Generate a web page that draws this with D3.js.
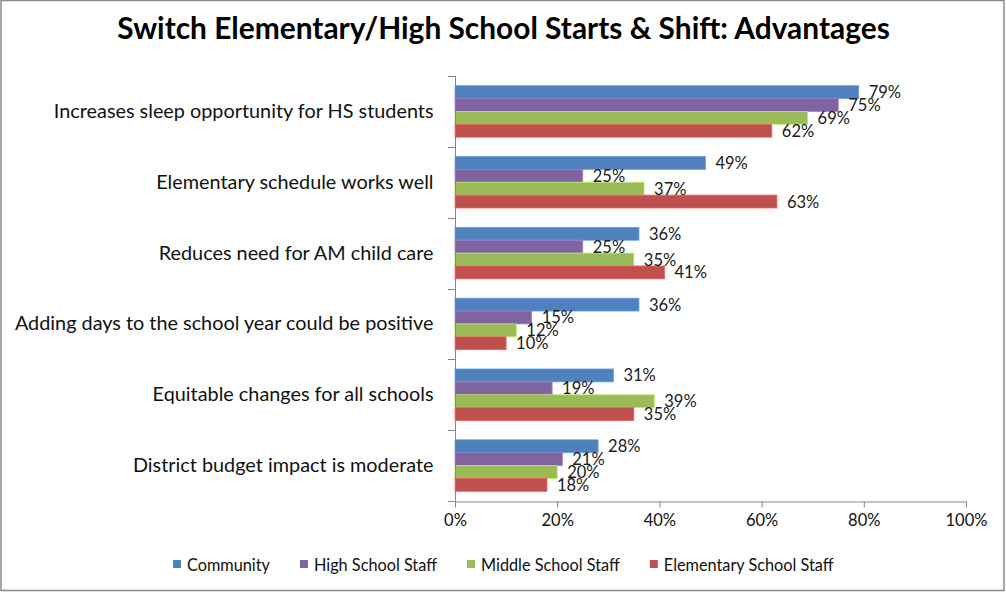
<!DOCTYPE html>
<html>
<head>
<meta charset="utf-8">
<script src="https://cdn.jsdelivr.net/npm/d3@7"></script>
<style>
  html, body { margin: 0; padding: 0; background: #fff; }
  svg { display: block; font-family: Lato, "Open Sans", sans-serif; }
</style>
</head>
<body>
<svg id="chart" width="1006" height="593"></svg>
<script>
// Survey answers: share of each group naming the option an advantage (%)
const categories = [
  "Increases sleep opportunity for HS students",
  "Elementary schedule works well",
  "Reduces need for AM child care",
  "Adding days to the school year could be positive",
  "Equitable changes for all schools",
  "District budget impact is moderate"
];
const seriesNames = ["Community", "High School Staff", "Middle School Staff", "Elementary School Staff"];
const community   = [79, 49, 36, 36, 31, 28];
const highSchool  = [75, 25, 25, 15, 19, 21];
const middle      = [69, 37, 35, 12, 39, 20];
const elementary  = [62, 63, 41, 10, 35, 18];
const xTicks = [0, 20, 40, 60, 80, 100];
const titleText = "Switch Elementary/High School Starts & Shift: Advantages";

const seriesValues = [community, highSchool, middle, elementary];
const colors = ["#4F81BD", "#8064A2", "#9BBB59", "#C0504D"];

const svg = d3.select("#chart");

// outer frame
svg.append("rect")
  .attr("x", 1).attr("y", 0.5).attr("width", 1003).attr("height", 590)
  .attr("fill", "#fff").attr("stroke", "#8a8a8a").attr("stroke-width", 1.5);

// scale a text's font size so it spans the given width
function fitWidth(sel, target) {
  const node = sel.node();
  const base = parseFloat(sel.attr("font-size"));
  const w = node.getComputedTextLength();
  const size = base * target / w;
  sel.attr("font-size", size);
  return size;
}

// title
const title = svg.append("text")
  .attr("x", 503.5).attr("y", 39)
  .attr("text-anchor", "middle")
  .attr("font-weight", "bold")
  .attr("font-size", 26)
  .attr("fill", "#000")
  .text(titleText);
fitWidth(title, 773);

const x = d3.scaleLinear().domain([0, 100]).range([455, 966]);
const y0 = d3.scaleBand().domain(categories).range([76, 501]).padding(0);
const y1 = d3.scaleBand().domain(seriesNames).range([0, y0.bandwidth()])
  .paddingInner(0).paddingOuter(0.75);

// bars
const groups = svg.append("g").selectAll("g")
  .data(categories)
  .join("g")
  .attr("transform", d => `translate(0,${y0(d)})`);

groups.selectAll("rect")
  .data((c, i) => seriesNames.map((s, k) => ({ s, k, v: seriesValues[k][i] })))
  .join("rect")
  .attr("x", x(0))
  .attr("y", d => y1(d.s))
  .attr("width", d => x(d.v) - x(0))
  .attr("height", y1.bandwidth())
  .attr("fill", d => colors[d.k])
  .attr("stroke", d => d3.color(colors[d.k]).brighter(0.6))
  .attr("stroke-width", 0.8);

// value labels
groups.selectAll("text")
  .data((c, i) => seriesNames.map((s, k) => ({ s, k, v: seriesValues[k][i] })))
  .join("text")
  .attr("x", d => x(d.v) + 10)
  .attr("y", d => y1(d.s) + y1.bandwidth() / 2 + 6)
  .attr("font-size", 16.5)
  .attr("fill", "#1a1a1a")
  .text(d => d.v + "%");

// category axis (left)
const yAxis = svg.append("g").attr("transform", `translate(${x(0)},0)`);
yAxis.append("line")
  .attr("x1", 0.5).attr("x2", 0.5).attr("y1", 76).attr("y2", 501.5)
  .attr("stroke", "#868686");
const boundaries = categories.map(c => y0(c)).concat([y0.range()[1]]);
yAxis.selectAll("line.tick")
  .data(boundaries)
  .join("line")
  .attr("class", "tick")
  .attr("x1", -7).attr("x2", 0.5)
  .attr("y1", d => Math.round(d) + 0.5).attr("y2", d => Math.round(d) + 0.5)
  .attr("stroke", "#868686");

const catLabels = svg.append("g").selectAll("text")
  .data(categories)
  .join("text")
  .attr("x", 433.5)
  .attr("y", d => y0(d) + y0.bandwidth() / 2 + 6.5)
  .attr("text-anchor", "end")
  .attr("font-size", 18)
  .attr("fill", "#111")
  .text(d => d);
const catSize = fitWidth(catLabels.filter((d, i) => i === 0), 380);
catLabels.attr("font-size", catSize);

// value axis (bottom)
const xAxis = svg.append("g")
  .attr("transform", "translate(0,501.5)")
  .call(d3.axisBottom(x).tickValues(xTicks).tickFormat(d => d + "%").tickSizeInner(6).tickSizeOuter(0));
xAxis.select(".domain").attr("stroke", "#868686");
xAxis.selectAll(".tick line").attr("stroke", "#868686");
xAxis.selectAll(".tick text")
  .attr("font-family", "Lato, 'Open Sans', sans-serif")
  .attr("font-size", 16.5)
  .attr("fill", "#111")
  .attr("y", 13)
  .attr("dy", "0.72em");

// legend: size the text so the longest entry spans 170px, then lay out left to right
const legend = svg.append("g");
const legendTexts = seriesNames.map(name => legend.append("text")
  .attr("y", 571)
  .attr("font-size", 15)
  .attr("fill", "#111")
  .text(name));
const legendSize = fitWidth(legendTexts[3], 170);
let lx = 173;
seriesNames.forEach((name, k) => {
  legend.append("rect")
    .attr("x", lx).attr("y", 560).attr("width", 8).attr("height", 8)
    .attr("fill", colors[k]);
  const t = legendTexts[k].attr("font-size", legendSize).attr("x", lx + 14);
  lx += 14 + t.node().getComputedTextLength() + 30;
});
</script>
</body>
</html>
